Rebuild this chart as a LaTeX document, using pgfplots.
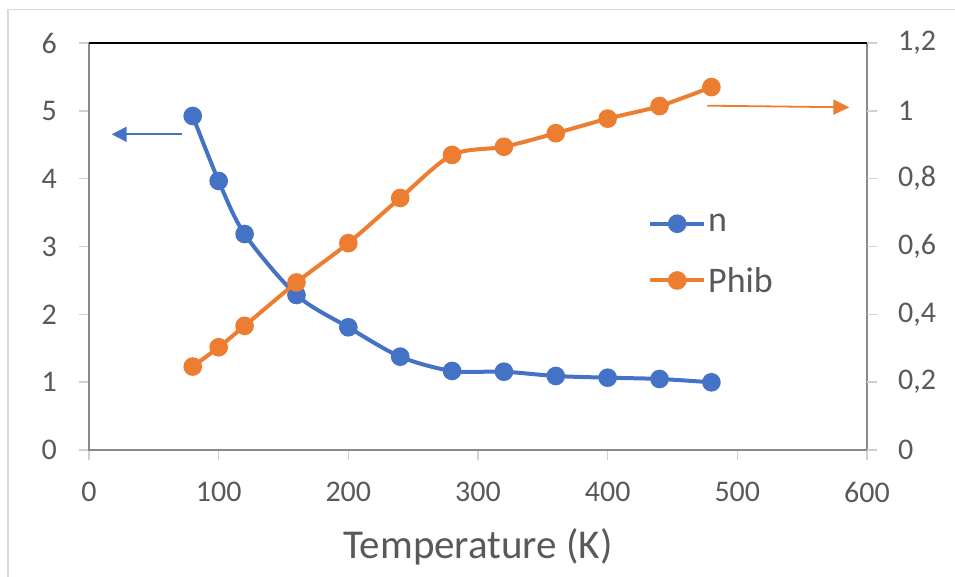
\documentclass[border=0pt]{standalone}
\usepackage{fontspec}
\setmainfont{Carlito}
\usepackage{pgfplots}
\pgfplotsset{compat=1.18}
\usetikzlibrary{arrows.meta}

\definecolor{nblue}{HTML}{4472C4}
\definecolor{porange}{HTML}{ED7D31}
\definecolor{txt}{HTML}{595959}
\definecolor{axgray}{HTML}{898989}
\definecolor{tickgray}{HTML}{D0D0D0}
\definecolor{framegray}{HTML}{D9D9D9}

% n (left axis)
\pgfplotstableread{
T n
80 4.924
100 3.966
120 3.184
160 2.285
200 1.809
240 1.376
280 1.165
320 1.154
360 1.091
400 1.066
440 1.047
480 0.998
}\ndata

% Phib (right axis)
\pgfplotstableread{
T phib
80 0.246
100 0.303
120 0.366
160 0.494
200 0.610
240 0.743
280 0.870
320 0.894
360 0.934
400 0.977
440 1.014
480 1.070
}\phibdata

\pgfplotsset{
  base/.style={
    at={(89bp,127bp)}, anchor=south west,
    scale only axis, width=778bp, height=407bp,
    xmin=0, xmax=600,
    axis line style={draw=none},
    tick align=outside, major tick length=10bp,
    tick style={tickgray, line width=1.5bp},
    ticklabel style={font=\fontsize{30bp}{36bp}\selectfont, text=txt, inner sep=0pt},
    /pgf/number format/assume math mode=true,
    clip=false,
  },
  ser/.style={line width=4bp, smooth, tension=0.5, mark=*, mark size=7.3bp,
    mark options={draw=none, fill=#1}, color=#1},
}

\begin{document}
\begin{tikzpicture}
\path[use as bounding box] (0,0) rectangle (955bp,577bp);
\draw[framegray, line width=1.3bp] (8bp,0) -- (8bp,567.7bp) -- (955bp,567.7bp);

\begin{axis}[base,
  ymin=0, ymax=6, ytick={0,1,...,6},
  xtick={0,100,...,600},
  xtick pos=bottom, ytick pos=left,
  yticklabel style={xshift=-22bp},
  xticklabel style={yshift=-22bp},
  xlabel={Temperature (K)},
  xlabel style={font=\fontsize{41bp}{48bp}\selectfont, text=txt, inner sep=0pt,
    at={(rel axis cs:0.5,0)}, anchor=base, yshift=-108bp},
]
\draw[axgray, line width=2.2bp] (rel axis cs:0,1) -- (rel axis cs:0,0) -- (rel axis cs:1,0) -- (rel axis cs:1,1);
\draw[black, line width=2.8bp] (rel axis cs:0,1) -- (rel axis cs:1,1);
\addplot[ser=nblue] table[x=T, y=n] {\ndata};
\draw[nblue, line width=1.8bp, -{Triangle[length=15bp,width=15bp]}] (axis cs:71.5,4.654) -- (axis cs:17.5,4.654);
\draw[porange, line width=1.8bp, -{Triangle[length=16bp,width=15bp]}] (axis cs:476.8,5.076) -- (axis cs:586.4,5.052);
\end{axis}

\begin{axis}[base,
  ymin=0, ymax=1.2, ytick={0,0.2,0.4,0.6,0.8,1,1.2},
  hide x axis,
  ytick pos=right, yticklabel pos=right,
  yticklabel style={xshift=21bp, /pgf/number format/use comma},
  legend style={at={(rel axis cs:0.7185,0.4816)}, anchor=west, draw=none, fill=none,
    inner sep=0pt, font=\fontsize{36bp}{43bp}\selectfont, text=txt, row sep=30bp,
    nodes={inner sep=2bp}},
  legend cell align=left,
  legend image code/.code={\draw[#1, mark repeat=2, mark phase=2] plot coordinates {(0bp,0bp) (27bp,0bp) (54bp,0bp)};},
]
\addlegendimage{ser=nblue}
\addlegendentry{n}
\addplot[ser=porange] table[x=T, y=phib] {\phibdata};
\addlegendentry{Phib}
\end{axis}
\end{tikzpicture}
\end{document}
